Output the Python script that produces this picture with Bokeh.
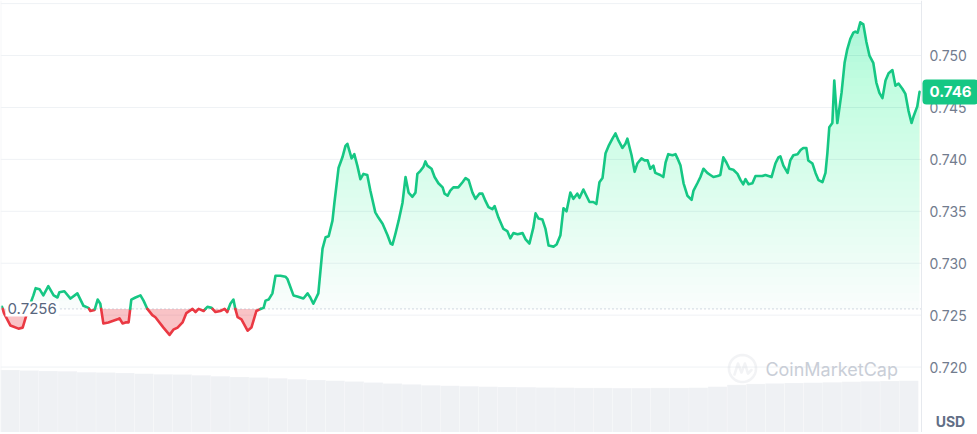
import numpy as np
from bokeh.plotting import figure
from bokeh.models import Range1d, Span, Label, PolyAnnotation
from bokeh.embed import file_html
from bokeh.resources import INLINE

# ---------------- data ----------------
hours = [0.04, 0.09, 0.26, 0.47, 0.58, 0.71, 0.86, 0.92, 1.02, 1.12, 1.25, 1.39, 1.49, 1.54, 1.67, 1.83,
         2.01, 2.17, 2.30, 2.35, 2.46, 2.54, 2.61, 2.69, 2.82, 3.06, 3.11, 3.19, 3.27, 3.35, 3.42, 3.53,
         3.66, 3.74, 3.84, 3.97, 4.05, 4.26, 4.42, 4.52, 4.63, 4.76, 4.86, 5.02, 5.10, 5.18, 5.31, 5.41,
         5.52, 5.62, 5.75, 5.86, 5.93, 6.01, 6.09, 6.14, 6.20, 6.30, 6.46, 6.56, 6.69, 6.80, 6.88, 6.93,
         7.01, 7.11, 7.19, 7.32, 7.45, 7.50, 7.66, 7.76, 7.92, 8.03, 8.10, 8.18, 8.31, 8.42, 8.50, 8.58,
         8.68, 8.73, 8.84, 8.94, 9.02, 9.07, 9.18, 9.25, 9.33, 9.41, 9.49, 9.59, 9.67, 9.80, 9.88, 9.99,
         10.12, 10.20, 10.25, 10.33, 10.41, 10.51, 10.59, 10.67, 10.77, 10.85, 10.90, 10.98, 11.06, 11.11,
         11.16, 11.27, 11.35, 11.45, 11.56, 11.61, 11.69, 11.76, 11.84, 11.97, 12.08, 12.16, 12.24, 12.34,
         12.42, 12.52, 12.60, 12.68, 12.76, 12.86, 12.92, 13.02, 13.15, 13.25, 13.33, 13.41, 13.52, 13.65,
         13.73, 13.83, 13.93, 13.99, 14.07, 14.17, 14.25, 14.33, 14.46, 14.54, 14.64, 14.72, 14.80, 14.90,
         14.98, 15.08, 15.14, 15.24, 15.32, 15.40, 15.50, 15.58, 15.66, 15.74, 15.82, 15.90, 16.00, 16.08,
         16.16, 16.26, 16.34, 16.39, 16.50, 16.58, 16.65, 16.76, 16.84, 16.92, 16.99, 17.07, 17.12, 17.25,
         17.33, 17.39, 17.46, 17.57, 17.65, 17.70, 17.78, 17.86, 17.96, 18.07, 18.12, 18.22, 18.30, 18.38,
         18.48, 18.56, 18.64, 18.75, 18.82, 18.90, 18.98, 19.06, 19.16, 19.27, 19.35, 19.42, 19.48, 19.56,
         19.66, 19.74, 19.82, 19.92, 20.00, 20.08, 20.16, 20.26, 20.34, 20.39, 20.47, 20.58, 20.65, 20.73,
         20.84, 20.92, 20.99, 21.07, 21.12, 21.23, 21.31, 21.39, 21.49, 21.57, 21.62, 21.67, 21.75, 21.80,
         21.88, 21.99, 22.07, 22.14, 22.22, 22.30, 22.35, 22.41, 22.48, 22.56, 22.64, 22.72, 22.82, 22.90,
         22.98, 23.06, 23.14, 23.22, 23.32, 23.40, 23.48, 23.58, 23.66, 23.74, 23.82, 23.87, 23.97, 24.03]

price = [0.7258, 0.7252, 0.7240, 0.7237, 0.7238, 0.7254, 0.7269, 0.7276, 0.7275, 0.7269, 0.7278, 0.7269,
         0.7267, 0.7272, 0.7273, 0.7266, 0.7271, 0.7259, 0.7257, 0.7254, 0.7255, 0.7265, 0.7261, 0.7242,
         0.7243, 0.7246, 0.7247, 0.7242, 0.7243, 0.7243, 0.7265, 0.7267, 0.7269, 0.7264, 0.7256, 0.7250,
         0.7248, 0.7238, 0.7231, 0.7236, 0.7238, 0.7243, 0.7252, 0.7256, 0.7253, 0.7256, 0.7254, 0.7258,
         0.7257, 0.7253, 0.7254, 0.7256, 0.7253, 0.7261, 0.7265, 0.7256, 0.7248, 0.7246, 0.7235, 0.7238,
         0.7254, 0.7256, 0.7257, 0.7264, 0.7265, 0.7271, 0.7288, 0.7288, 0.7287, 0.7285, 0.7269, 0.7268,
         0.7266, 0.7271, 0.7267, 0.7261, 0.7271, 0.7314, 0.7325, 0.7326, 0.7341, 0.7358, 0.7392, 0.7402,
         0.7413, 0.7415, 0.7401, 0.7405, 0.7394, 0.7381, 0.7386, 0.7385, 0.7370, 0.7349, 0.7344, 0.7338,
         0.7327, 0.7319, 0.7318, 0.7329, 0.7341, 0.7358, 0.7383, 0.7368, 0.7364, 0.7368, 0.7386, 0.7389,
         0.7393, 0.7398, 0.7394, 0.7391, 0.7383, 0.7377, 0.7373, 0.7367, 0.7365, 0.7370, 0.7373, 0.7373,
         0.7378, 0.7382, 0.7380, 0.7368, 0.7362, 0.7367, 0.7367, 0.7360, 0.7354, 0.7352, 0.7355, 0.7344,
         0.7333, 0.7331, 0.7324, 0.7329, 0.7328, 0.7329, 0.7323, 0.7319, 0.7334, 0.7348, 0.7343, 0.7342,
         0.7333, 0.7317, 0.7316, 0.7318, 0.7327, 0.7353, 0.7350, 0.7368, 0.7362, 0.7367, 0.7363, 0.7371,
         0.7365, 0.7359, 0.7359, 0.7357, 0.7378, 0.7382, 0.7406, 0.7413, 0.7420, 0.7425, 0.7418, 0.7411,
         0.7415, 0.7420, 0.7404, 0.7388, 0.7396, 0.7401, 0.7399, 0.7399, 0.7391, 0.7394, 0.7387, 0.7385,
         0.7383, 0.7397, 0.7405, 0.7404, 0.7405, 0.7401, 0.7394, 0.7377, 0.7365, 0.7361, 0.7370, 0.7377,
         0.7383, 0.7391, 0.7387, 0.7385, 0.7383, 0.7384, 0.7385, 0.7402, 0.7397, 0.7391, 0.7390, 0.7386,
         0.7380, 0.7376, 0.7381, 0.7376, 0.7377, 0.7384, 0.7384, 0.7384, 0.7385, 0.7384, 0.7383, 0.7396,
         0.7402, 0.7403, 0.7394, 0.7387, 0.7399, 0.7404, 0.7405, 0.7409, 0.7411, 0.7411, 0.7399, 0.7396,
         0.7387, 0.7380, 0.7378, 0.7387, 0.7406, 0.7431, 0.7435, 0.7476, 0.7435, 0.7464, 0.7493, 0.7506,
         0.7516, 0.7522, 0.7523, 0.7522, 0.7532, 0.7530, 0.7513, 0.7500, 0.7493, 0.7474, 0.7464, 0.7459,
         0.7476, 0.7483, 0.7486, 0.7471, 0.7473, 0.7468, 0.7463, 0.7447, 0.7435, 0.7441, 0.7451, 0.7465]

base_price = 0.7256
base_label = "0.7256"
current_label = "0.746"
unit_label = "USD"

vol_hours = [0.25, 0.75, 1.25, 1.75, 2.25, 2.75, 3.25, 3.75, 4.25, 4.75, 5.25, 5.75,
             6.25, 6.75, 7.25, 7.75, 8.25, 8.75, 9.25, 9.75, 10.25, 10.75, 11.25, 11.75,
             12.25, 12.75, 13.25, 13.75, 14.25, 14.75, 15.25, 15.75, 16.25, 16.75, 17.25, 17.75,
             18.25, 18.75, 19.25, 19.75, 20.25, 20.75, 21.25, 21.75, 22.25, 22.75, 23.25, 23.75]
volume = [268, 265, 263, 262, 258, 257, 255, 252, 249, 248, 245, 241,
          238, 236, 232, 228, 225, 222, 218, 214, 210, 206, 202, 200,
          198, 196, 195, 194, 193, 192, 191, 191, 190, 190, 191, 191,
          192, 196, 204, 208, 210, 212, 213, 215, 217, 219, 221, 222]

y_ticks = [0.720, 0.725, 0.730, 0.735, 0.740, 0.745, 0.750]
grid_ticks = [0.720, 0.725, 0.730, 0.735, 0.740, 0.745, 0.750, 0.755]

GREEN = "#16c784"
RED = "#ea3943"
FONT = "Inter"

# ---------------- figure ----------------
x_end = 24.08            # end of the time window (right border of the chart)
x_view_end = 25.545      # extra room on the right for the price scale
y_lo, y_hi = 0.71370, 0.75530
FW, FH = 977, 432
p = figure(frame_width=FW, frame_height=FH,
           x_range=Range1d(0, x_view_end), y_range=Range1d(y_lo, y_hi),
           x_axis_location=None, y_axis_location=None,
           output_backend="svg", toolbar_location=None,
           min_border_left=0, min_border_top=0, min_border_bottom=0, min_border_right=0)
p.extra_y_ranges = {"vol": Range1d(0, 1850)}
p.outline_line_color = None
p.background_fill_color = "white"
p.border_fill_color = "white"
p.xgrid.visible = False
p.ygrid.visible = False

px_x = x_view_end / FW
px_y = (y_hi - y_lo) / FH

# horizontal grid lines limited to the chart window
p.segment(x0=[0] * len(grid_ticks), x1=[x_end] * len(grid_ticks), y0=grid_ticks, y1=grid_ticks,
          line_color="#eff2f5", line_width=1)

# volume bars
p.vbar(x=vol_hours, top=volume, width=0.5, bottom=0, y_range_name="vol",
       fill_color="#eff1f4", line_color="white", line_width=0.5, line_alpha=0.4)

# frame borders (left faint, right)
p.add_layout(Span(location=0.01, dimension="height", line_color="#f1f3f6", line_width=1))
p.add_layout(Span(location=x_end, dimension="height", line_color="#e6e9ee", line_width=1))

# insert crossing points with the baseline
t = np.array(hours, dtype=float)
v = np.array(price, dtype=float)
xs = [t[0]]
ys = [v[0]]
for i in range(1, len(t)):
    a = v[i - 1] - base_price
    b = v[i] - base_price
    if a * b < 0:
        f = a / (a - b)
        xs.append(t[i - 1] + f * (t[i] - t[i - 1]))
        ys.append(base_price)
    xs.append(t[i])
    ys.append(v[i])
xs = np.array(xs)
ys = np.array(ys)

# green gradient fill (layered)
top_v = ys.max()
n_layers = 36
edges = np.linspace(base_price, top_v, n_layers + 1)[:-1]
prev_A = 0.0
for k, lo in enumerate(edges):
    frac = (k + 1) / n_layers
    A = 0.02 + 0.27 * frac
    a_k = (A - prev_A) / (1 - prev_A)
    prev_A = A
    p.varea(x=xs, y1=np.full_like(xs, lo), y2=np.maximum(ys, lo),
            fill_color=GREEN, fill_alpha=a_k)

# red fill
p.varea(x=xs, y1=np.minimum(ys, base_price), y2=np.full_like(xs, base_price),
        fill_color=RED, fill_alpha=0.3)

# baseline (dotted), limited to the window
p.segment(x0=[0], x1=[x_end], y0=[base_price], y1=[base_price],
          line_color="#a7b1c2", line_dash="1 3", line_width=1)

# colored line runs
runs_x, runs_y, runs_c = [], [], []
cur_x, cur_y, cur_up = [xs[0]], [ys[0]], None
for i in range(1, len(xs)):
    up = (ys[i - 1] + ys[i]) / 2 >= base_price
    if cur_up is None:
        cur_up = up
    if up != cur_up:
        runs_x.append(cur_x); runs_y.append(cur_y); runs_c.append(GREEN if cur_up else RED)
        cur_x, cur_y, cur_up = [xs[i - 1]], [ys[i - 1]], up
    cur_x.append(xs[i]); cur_y.append(ys[i])
runs_x.append(cur_x); runs_y.append(cur_y); runs_c.append(GREEN if cur_up else RED)
p.multi_line(xs=[list(r) for r in runs_x], ys=[list(r) for r in runs_y], line_color=runs_c,
             line_width=2.6, line_join="round", line_cap="round")

# baseline label
p.add_layout(Label(x=0.13, y=base_price, text=base_label, text_align="left", text_baseline="middle",
                   text_font=FONT, text_font_size="15px", text_color="#58667e",
                   background_fill_color="white", padding=2))

# price scale labels
for tk in y_ticks:
    p.add_layout(Label(x=x_end + 8 * px_x, y=tk, text=f"{tk:.3f}", text_align="left",
                       text_baseline="middle", text_font=FONT, text_font_size="14px",
                       text_color="#727c8e"))

# watermark
cx, cy, r = 19.40, 0.71986, 13.5
ang = np.linspace(0, 2 * np.pi, 73)
p.add_layout(PolyAnnotation(xs=list(cx + r * px_x * np.cos(ang)), ys=list(cy + r * px_y * np.sin(ang)),
                            fill_alpha=0, line_color="#d3d8df", line_width=2.6))
wave = [(-8, 6), (-4.5, -5), (-1, 4), (2.5, -5), (5.5, 5), (9, 1.5)]
wx = [cx + dx * px_x for dx, dy in wave]
wy = [cy - dy * px_y for dx, dy in wave]
p.add_layout(PolyAnnotation(xs=wx + wx[::-1], ys=wy + wy[::-1],
                            fill_alpha=0, line_color="#d3d8df", line_width=2.6, line_join="round"))
p.add_layout(Label(x=20.0, y=0.71976, text="CoinMarketCap", text_align="left", text_baseline="middle",
                   text_font=FONT, text_font_size="18px", text_font_style="normal", text_color="#c9ced7"))

# current price tag
p.add_layout(Label(x=x_end, y=price[-1], x_offset=1, text=current_label, text_align="left",
                   text_baseline="middle", text_font=FONT, text_font_size="15px",
                   text_font_style="bold", text_color="white",
                   background_fill_color=GREEN, padding=7, border_radius=4))

# USD label
p.add_layout(Label(x=x_end + 29 * px_x, y=0.71476, text=unit_label, text_align="center",
                   text_baseline="middle", text_font=FONT, text_font_size="14px",
                   text_font_style="bold", text_color="#616e85"))

open("out.html", "w").write(file_html(p, INLINE))
